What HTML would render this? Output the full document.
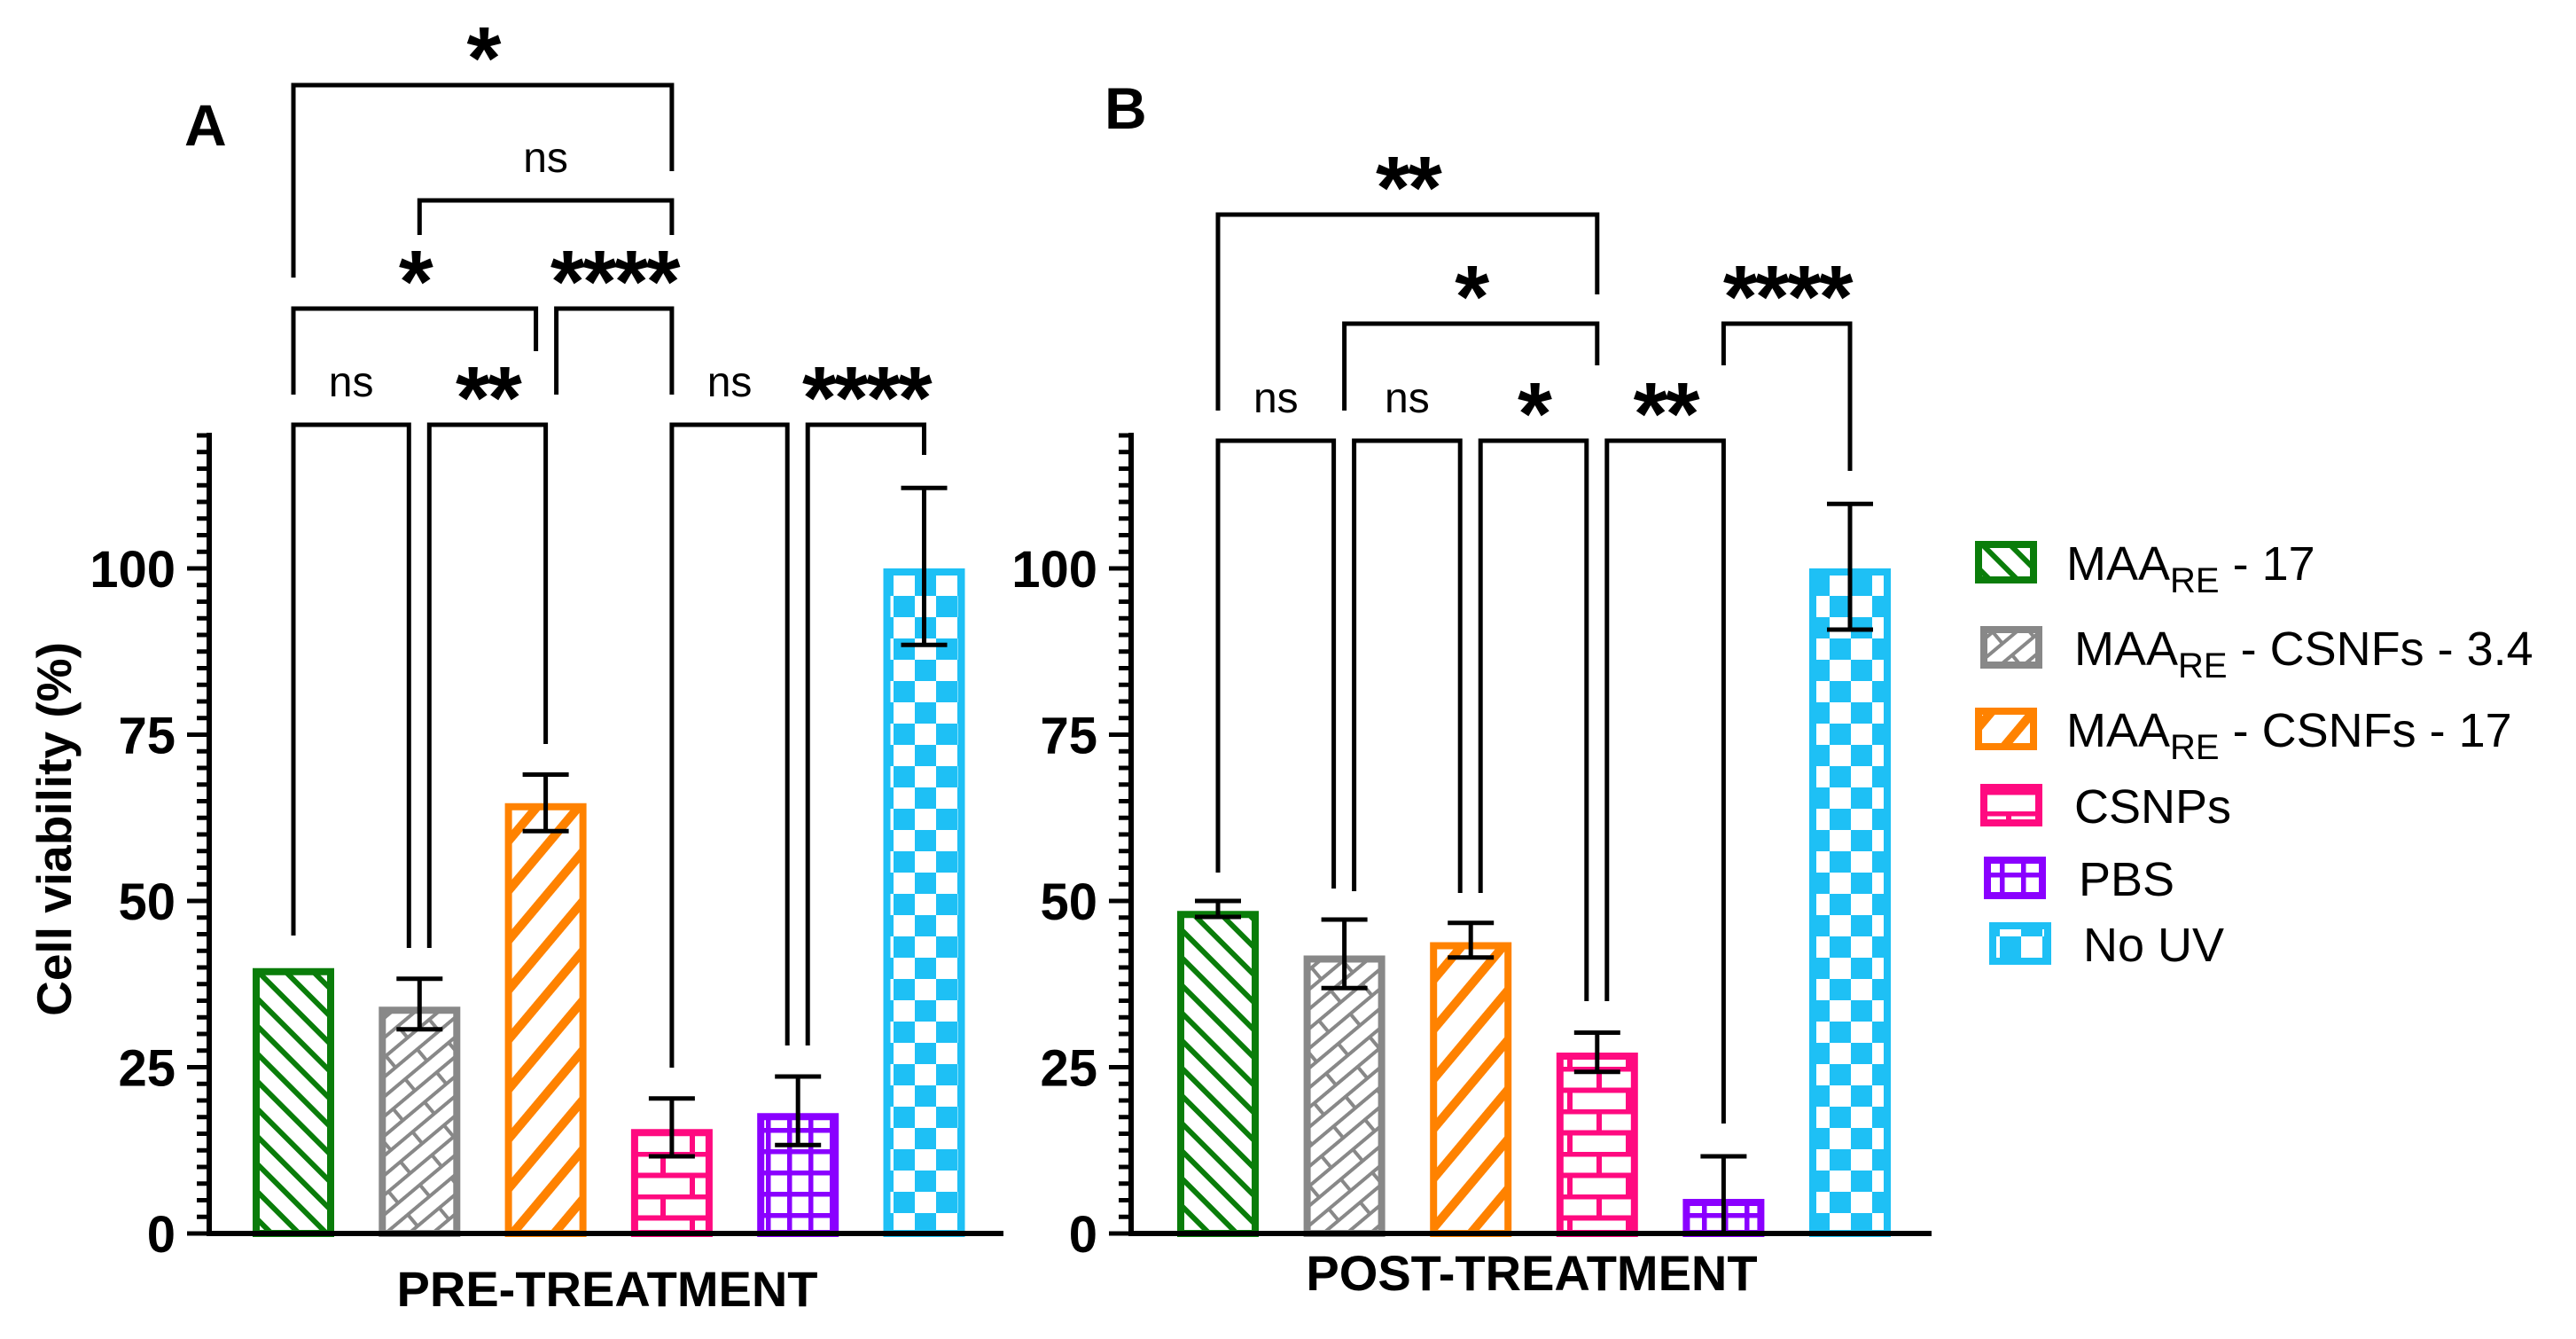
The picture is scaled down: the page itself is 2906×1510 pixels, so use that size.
<!DOCTYPE html>
<html><head><meta charset="utf-8"><style>
html,body{margin:0;padding:0;background:#fff;}
svg{display:block;font-family:"Liberation Sans",Arial,sans-serif;}
</style></head><body>
<svg id="chart" width="2906" height="1510" viewBox="0 0 2906 1510" xmlns="http://www.w3.org/2000/svg">
<defs>
 <pattern id="p-green" patternUnits="userSpaceOnUse" width="22" height="22" patternTransform="rotate(-45)">
  <rect width="22" height="22" fill="#fff"/><rect x="0" y="0" width="6" height="22" fill="#0a7d0a"/>
 </pattern>
 <pattern id="p-gray" patternUnits="userSpaceOnUse" width="64" height="34" patternTransform="rotate(-40)">
  <rect width="64" height="34" fill="#fff"/>
  <path d="M0 2H64M0 19H64M16 2V19M48 19V34" stroke="#888" stroke-width="4" fill="none"/>
 </pattern>
 <pattern id="p-orange" patternUnits="userSpaceOnUse" width="36" height="36" patternTransform="rotate(40)">
  <rect width="36" height="36" fill="#fff"/><rect x="0" y="0" width="10" height="36" fill="#ff8200"/>
 </pattern>
 <pattern id="p-pink" patternUnits="userSpaceOnUse" width="66" height="48" x="0" y="3">
  <rect width="66" height="48" fill="#fff"/>
  <path d="M0 2.5H66M0 26.5H66M22 2.5V26.5M55 26.5V48" stroke="#ff0a80" stroke-width="6" fill="none"/>
 </pattern>
 <pattern id="p-purple" patternUnits="userSpaceOnUse" width="24" height="24">
  <rect width="24" height="24" fill="#fff"/>
  <path d="M0 2.5H24M2.5 0V24" stroke="#8a00ff" stroke-width="6" fill="none"/>
 </pattern>
 <pattern id="p-blue" patternUnits="userSpaceOnUse" width="48" height="48">
  <rect width="48" height="48" fill="#fff"/>
  <rect x="0" y="0" width="24" height="24" fill="#1ec0f5"/><rect x="24" y="24" width="24" height="24" fill="#1ec0f5"/>
 </pattern>
</defs>
<g id="root"></g>
</svg>
<script>
// ---- data ----
const categories = ["MAA_RE - 17","MAA_RE - CSNFs - 3.4","MAA_RE - CSNFs - 17","CSNPs","PBS","No UV"];
const preMeans = [39.9, 34.1, 64.7, 15.7, 18.1, 100];
const preErrUp = [0, 4.2, 4.3, 4.6, 5.5, 12.1];
const preErrDown = [0, 3.4, 4.2, 4.1, 4.8, 11.5];
const postMeans = [48.5, 41.8, 43.8, 27.2, 5.2, 100];
const postErrUp = [1.5, 5.4, 2.9, 3.0, 6.4, 9.7];
const postErrDown = [0.9, 4.9, 2.3, 2.9, 6.4, 9.2];
const yTicks = [0, 25, 50, 75, 100];
const yTickLabels = ["0", "25", "50", "75", "100"];
const legendLabels = ["MAA|RE| - 17", "MAA|RE| - CSNFs - 3.4", "MAA|RE| - CSNFs - 17", "CSNPs", "PBS", "No UV"];
// significance: [fromIndex, toIndex, label]
const preSig = [["0","1","ns"],["1","2","**"],["3","4","ns"],["4","5","****"],["0","2","*"],["2","3","****"],["1","3","ns"],["0","3","*"]];
const postSig = [["0","1","ns"],["1","2","ns"],["2","3","*"],["3","4","**"],["1","3","*"],["4","5","****"],["0","3","**"]];

const colors = ["#0a7d0a","#888888","#ff8200","#ff0a80","#8a00ff","#1ec0f5"];
const fills = ["p-green","p-gray","p-orange","p-pink","p-purple","p-blue"];
const NS = "http://www.w3.org/2000/svg";
const root = document.getElementById("root");
function mk(tag, attrs, parent){const e=document.createElementNS(NS,tag);for(const k in attrs)e.setAttribute(k,attrs[k]);(parent||root).appendChild(e);return e;}

const Y0 = 1391, PXU = 7.5;
function yScale(v){return Y0 - PXU*v;}

function drawPanel(p){
  const g = mk("g",{});
  
  
  const xc = i => p.x0 + i*p.pitch;
  p.means.forEach((v,i)=>{
    const top = yScale(v);
    const b = mk("rect",{x:xc(i)-42,y:top+4,width:84,height:Math.max(0,Y0-top-4),fill:"url(#"+fills[i]+")",stroke:colors[i],"stroke-width":8},g);
    
    
  });
  p.means.forEach((v,i)=>{
    if(p.up[i]===0 && p.down[i]===0) return;
    const hi=yScale(v+p.up[i]), lo=yScale(Math.max(0,v-p.down[i]));
    const e = mk("path",{d:`M${xc(i)} ${hi}V${lo}M${xc(i)-26} ${hi}H${xc(i)+26}`+(v-p.down[i]>0?`M${xc(i)-26} ${lo}H${xc(i)+26}`:""),stroke:"#000","stroke-width":5,fill:"none"},g);
    
    
  });
  const ax = mk("path",{d:`M${p.ax} ${yScale(120.4)}V${Y0+3}M${p.ax-3} ${Y0}H${p.axEnd}`,stroke:"#000","stroke-width":6,fill:"none"},g);
  
  
  let d="";
  for(let t=0;t<=120;t+=2.5){const major=yTicks.includes(t);d+=`M${p.ax-(major?25:14)} ${yScale(t)}H${p.ax}`;}
  const tk = mk("path",{d:d,stroke:"#000","stroke-width":5,fill:"none"},g);
  
  
  yTicks.forEach((t,i)=>{
    const tl = mk("text",{x:p.ax-38,y:yScale(t)+21,"text-anchor":"end","font-size":58,"font-weight":"bold"},g);
    tl.textContent = yTickLabels[i];
    
    
  });
  p.sig.forEach((s,k)=>{
    const a=+s[0], b=+s[1], geo=p.geo[k];
    const x1=xc(a)+(geo[3]||0), x2=xc(b)+(geo[4]||0);
    const br = mk("path",{d:`M${x1} ${geo[1]}V${geo[0]}H${x2}V${geo[2]}`,stroke:"#000","stroke-width":5,fill:"none"},g);
    
    
    const isNs = s[2]==="ns";
    const tx = mk("text",{x:(x1+x2)/2,y:isNs?geo[0]-32:geo[0]+4,"text-anchor":"middle","font-size":isNs?48:100,"font-weight":isNs?"normal":"bold","letter-spacing":isNs?0:-3},g);
    tx.textContent = s[2];
    
    
  });
  const xt = mk("text",{x:p.titleX,y:p.titleY,"text-anchor":"middle","font-size":56,"font-weight":"bold"},g);
  xt.textContent = p.title;
  
  
  const pl = mk("text",{x:p.letterX,y:p.letterY,"font-size":66,"font-weight":"bold"},g);
  pl.textContent = p.letter;
  
  
}

drawPanel({name:"panel-a-pre-treatment",tag:"a",x0:331,pitch:142.3,ax:236,axEnd:1132,
  means:preMeans,up:preErrUp,down:preErrDown,sig:preSig,
  geo:[[479,1055,1069,0,-12],[479,1069,839,11,0],[479,1204,1179,0,-12],[479,1179,513,11,0],
       [348,445,396,0,-11],[348,445,445,12,0],[226,265,265,0,0],[96,313,193,0,0]],
  title:"PRE-TREATMENT",titleX:685,titleY:1473,letter:"A",letterX:208,letterY:164});
drawPanel({name:"panel-b-post-treatment",tag:"b",x0:1374,pitch:142.6,ax:1276,axEnd:2179,
  means:postMeans,up:postErrUp,down:postErrDown,sig:postSig,
  geo:[[497,984,1002,0,-12],[497,1005,1007,11,-12],[497,1007,1129,11,-12],[497,1129,1267,11,0],
       [365,463,412,0,0],[365,412,531,0,0],[242,463,332,0,0]],
  title:"POST-TREATMENT",titleX:1728,titleY:1455,letter:"B",letterX:1246,letterY:145});

const yt = mk("text",{x:0,y:0,transform:"translate(80,935) rotate(-90)","text-anchor":"middle","font-size":55,"font-weight":"bold"});
yt.textContent = "Cell viability (%)";



const legY = [634, 730, 822, 908, 990, 1064];
const legSwX = [2232, 2238, 2232, 2238, 2242, 2248];
const legTxX = [2331, 2340, 2331, 2340, 2345, 2350];
legendLabels.forEach((lab,i)=>{
  const g = mk("g",{});
  
  
  mk("rect",{x:legSwX[i],y:legY[i]-20,width:62,height:40,fill:"url(#"+fills[i]+")",stroke:colors[i],"stroke-width":8},g);
  const t = mk("text",{x:legTxX[i],y:legY[i]+20,"font-size":54},g);
  const parts = lab.split("|");
  if(parts.length===3){
    const a=mk("tspan",{},t);a.textContent=parts[0];
    const b=mk("tspan",{"font-size":40,dy:14},t);b.textContent=parts[1];
    const c=mk("tspan",{dy:-14},t);c.textContent=parts[2];
  } else { t.textContent = lab; }
});
</script>
</body></html>
